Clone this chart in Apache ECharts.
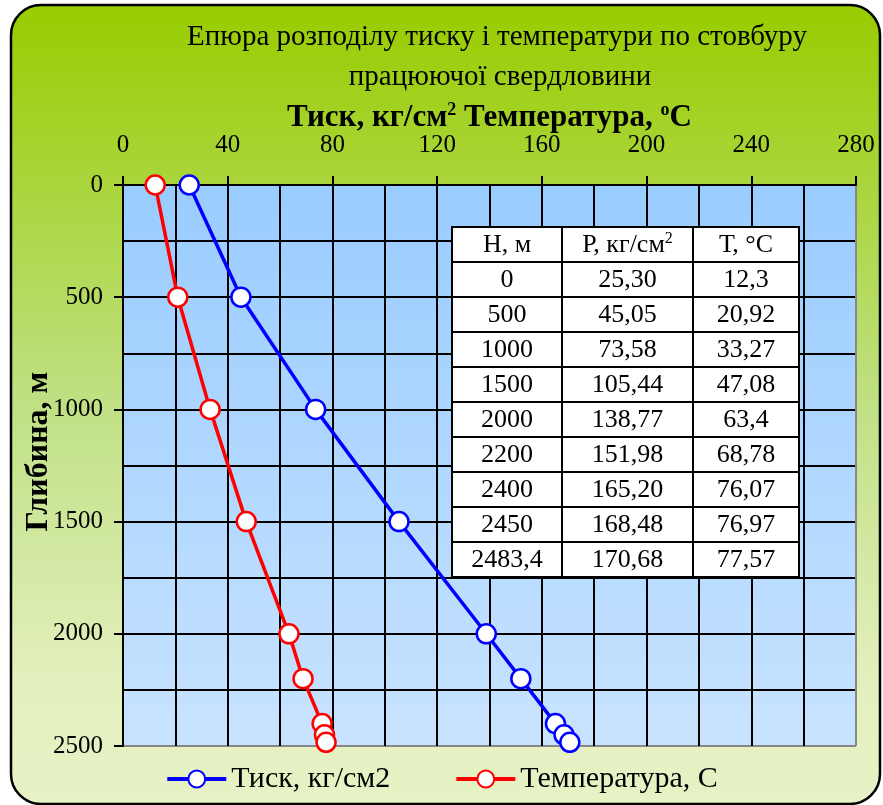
<!DOCTYPE html>
<html><head><meta charset="utf-8">
<script src="https://cdn.jsdelivr.net/npm/echarts@6/dist/echarts.min.js"></script>
<style>html,body{margin:0;padding:0;background:#fff}#c{width:883px;height:805px}</style>
</head><body><div id="c"></div>
<script>
// ---- data ----
const depth = [0, 500, 1000, 1500, 2000, 2200, 2400, 2450, 2483.4];
const pressure = [25.30, 45.05, 73.58, 105.44, 138.77, 151.98, 165.20, 168.48, 170.68];
const temperature = [12.3, 20.92, 33.27, 47.08, 63.4, 68.78, 76.07, 76.97, 77.57];
const seriesNames = ['Тиск, кг/см2', 'Температура, С'];
const titleLines = ['Епюра розподілу тиску і температури по стовбуру', 'працюючої свердловини'];
const tableHeader = ['Н, м', 'Р, кг/см{s|2}', 'Т, °С'];

const FONT = "'Liberation Serif','Times New Roman',serif";
const fmtH = v => String(v).replace('.', ',');
const fmtP = v => v.toFixed(2).replace('.', ',');
const fmtT = v => String(v).replace('.', ',');

// ---- table graphic ----
const colX = [452, 562, 693, 799];
const rowY0 = 227, rowH = 35;
const tableEls = [];
const nRows = depth.length + 1;
tableEls.push({type:'rect', shape:{x:colX[0], y:rowY0, width:colX[3]-colX[0], height:rowH*nRows},
  style:{fill:'#fff', stroke:'#000', lineWidth:2}, z:100});
for (let r = 1; r < nRows; r++) {
  tableEls.push({type:'line', shape:{x1:colX[0], y1:rowY0+r*rowH, x2:colX[3], y2:rowY0+r*rowH},
    style:{stroke:'#000', lineWidth:2}, z:101});
}
for (let c = 1; c < 3; c++) {
  tableEls.push({type:'line', shape:{x1:colX[c], y1:rowY0, x2:colX[c], y2:rowY0+rowH*nRows},
    style:{stroke:'#000', lineWidth:2}, z:101});
}
const rows = [tableHeader].concat(depth.map((h, i) => [fmtH(h), fmtP(pressure[i]), fmtT(temperature[i])]));
rows.forEach((row, r) => {
  row.forEach((txt, c) => {
    tableEls.push({type:'text', z:102,
      style:{text: txt, x:(colX[c]+colX[c+1])/2, y: rowY0 + r*rowH + rowH/2 + 1,
        align:'center', verticalAlign:'middle', fill:'#000',
        fontFamily: FONT, fontSize: 26,
        rich:{s:{fontSize:16, fontFamily:FONT, padding:[0,0,13,0]}}}});
  });
});

const chart = echarts.init(document.getElementById('c'));
const option = {
  animation: false,
  graphic: [
    {type:'rect', z:-10, shape:{x:11, y:5, width:869, height:799, r:30},
      style:{stroke:'#000', lineWidth:2.5,
        fill: new echarts.graphic.LinearGradient(0,0,0,1,[
          {offset:0, color:'#99CC00'},{offset:0.5, color:'#c0e084'},{offset:0.85, color:'#e3f0be'},{offset:1, color:'#e7f2c5'}])}},
    {type:'text', z:10, style:{text:titleLines[0], x:497, y:37, align:'center', verticalAlign:'middle',
      fontFamily:FONT, fontSize:29, fill:'#000'}},
    {type:'text', z:10, style:{text:titleLines[1], x:500, y:77, align:'center', verticalAlign:'middle',
      fontFamily:FONT, fontSize:29, fill:'#000'}}
  ].concat(tableEls),
  grid: {left:123, top:185, right:27, bottom:59, show:true, borderWidth:0,
    backgroundColor: new echarts.graphic.LinearGradient(0,0,0,1,[
      {offset:0, color:'#99CCFF'},{offset:1, color:'#C8E3FF'}])},
  legend: {
    bottom: 6, left:'center', itemWidth:59, itemHeight:21, itemGap:64,
    textStyle:{fontFamily:FONT, fontSize:30, color:'#000'},
    lineStyle:{width:4},
    data: seriesNames
  },
  xAxis: {
    type:'value', position:'top', min:0, max:280, interval:40,
    name:'Тиск, кг/см{s|2} Температура, {s|o}С', nameLocation:'middle', nameGap:50,
    nameMoveOverlap:false,
    nameTextStyle:{fontFamily:FONT, fontSize:31, fontWeight:'bold', color:'#000',
      rich:{s:{fontFamily:FONT, fontSize:18, fontWeight:'bold', padding:[0,0,16,0]}}},
    axisLine:{show:true, lineStyle:{color:'#000', width:2}},
    axisTick:{show:true, length:9, lineStyle:{color:'#000', width:2}},
    axisLabel:{fontFamily:FONT, fontSize:25, color:'#000', margin:27},
    splitLine:{show:true, lineStyle:{color:['#000','#000','#000','#000','#000','#000','#000','#888'], width:2}},
    minorTick:{show:false, splitNumber:2},
    minorSplitLine:{show:true, lineStyle:{color:'#000', width:2}}
  },
  yAxis: {
    type:'value', inverse:true, min:0, max:2500, interval:500,
    name:'Глибина, м', nameLocation:'middle', nameGap:68, nameRotate:90,
    nameMoveOverlap:false,
    nameTextStyle:{fontFamily:FONT, fontSize:32, fontWeight:'bold', color:'#000', padding:[0,0,0,28]},
    axisLine:{show:true, lineStyle:{color:'#000', width:2}},
    axisTick:{show:true, length:9, lineStyle:{color:'#000', width:2}},
    axisLabel:{fontFamily:FONT, fontSize:25, color:'#000', margin:20, formatter: v => String(v)},
    splitLine:{show:true, lineStyle:{color:['#000','#000','#000','#000','#000','#888'], width:2}},
    minorTick:{show:false, splitNumber:2},
    minorSplitLine:{show:true, lineStyle:{color:'#000', width:2}}
  },
  series: [
    {name:seriesNames[0], type:'line', data: depth.map((h,i)=>[pressure[i], h]),
      lineStyle:{color:'#0000FF', width:3.5}, itemStyle:{color:'#fff', borderColor:'#0000FF', borderWidth:2.5},
      color:'#0000FF', symbol:'circle', symbolSize:19, z:5},
    {name:seriesNames[1], type:'line', data: depth.map((h,i)=>[temperature[i], h]),
      lineStyle:{color:'#FF0000', width:3.5}, itemStyle:{color:'#fff', borderColor:'#FF0000', borderWidth:2.5},
      color:'#FF0000', symbol:'circle', symbolSize:19, z:5}
  ]
};
chart.setOption(option);
</script>
</body></html>
